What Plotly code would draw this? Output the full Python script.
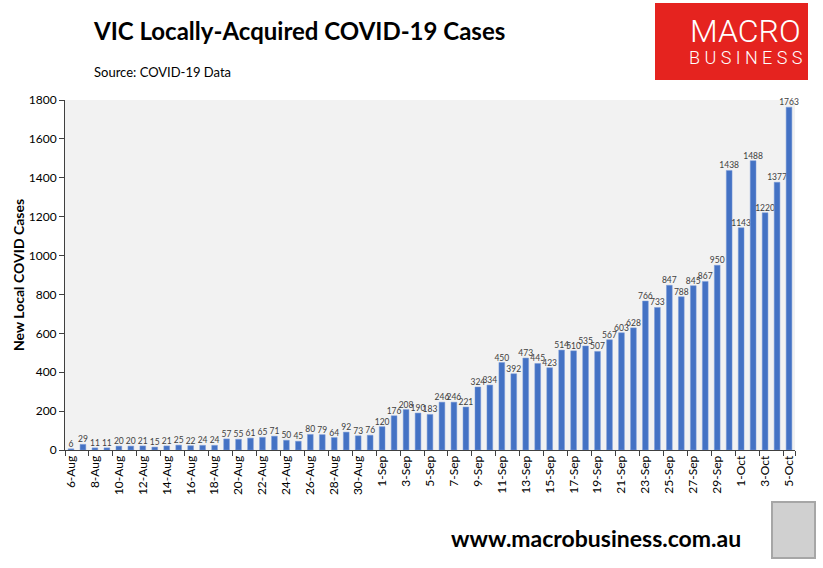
import plotly.graph_objects as go
import pandas as pd

dates = [d.strftime("%-d-%b") for d in pd.date_range("2020-08-06", "2020-10-05")]
cases = [6, 29, 11, 11, 20, 20, 21, 15, 21, 25, 22, 24, 24,
         57, 55, 61, 65, 71, 50, 45, 80, 79, 64, 92, 73, 76,
         120, 176, 208, 190, 183, 246, 246, 221, 324, 334,
         450, 392, 473, 445, 423, 514, 510, 535, 507, 567,
         603, 628, 766, 733, 847, 788, 845, 867, 950, 1438,
         1143, 1488, 1220, 1377, 1763]
y_ticks = [0, 200, 400, 600, 800, 1000, 1200, 1400, 1600, 1800]

FONT = "Lato"
L, R, T, B = 65, 795, 100, 450
PW, PH = R - L, B - T


def px(x):
    return (x - L) / PW


def py(y):
    return (B - y) / PH


fig = go.Figure(go.Bar(
    x=dates, y=cases,
    marker=dict(color="#4472C4", line=dict(color="#7A9AD8", width=0.5)),
    width=0.48,
    text=[str(v) for v in cases], textposition="outside",
    textfont=dict(size=8.5, color="#404040", family=FONT),
    cliponaxis=False,
))

fig.update_layout(
    width=823, height=568,
    margin=dict(l=L, r=823 - R, t=T, b=568 - B, autoexpand=False),
    paper_bgcolor="white", plot_bgcolor="#F2F2F2",
    showlegend=False,
    font=dict(family=FONT, color="#000000"),
    uniformtext=dict(minsize=8, mode="show"),
)
fig.update_xaxes(
    type="category", tickmode="array",
    tickvals=dates[::2], ticktext=dates[::2],
    tickangle=-90, tickfont=dict(size=12, color="#000000", family=FONT),
    ticks="outside", ticklen=5, tickcolor="#404040", tickson="boundaries",
    showline=True, linecolor="#404040", linewidth=1, showgrid=False,
    automargin=False,
)
fig.update_yaxes(
    range=[0, 1800], tickvals=y_ticks,
    tickfont=dict(size=12, color="#000000", family=FONT),
    ticks="outside", ticklen=5, tickcolor="#404040",
    showline=True, linecolor="#404040", linewidth=1, showgrid=False, zeroline=False,
    automargin=False,
)

# Y-axis title
fig.add_annotation(xref="paper", yref="paper", xanchor="center", yanchor="middle",
                   x=px(18), y=py(275), showarrow=False, textangle=-90,
                   text="<b>New Local COVID Cases</b>",
                   font=dict(size=14, family=FONT, color="#000000"))

# Title and source
fig.add_annotation(xref="paper", yref="paper", xanchor="left", yanchor="middle",
                   x=px(91), y=py(30), showarrow=False,
                   text="<b>VIC Locally-Acquired COVID-19 Cases</b>",
                   font=dict(size=24, family=FONT, color="#000000"))
fig.add_annotation(xref="paper", yref="paper", xanchor="left", yanchor="middle",
                   x=px(92), y=py(72), showarrow=False,
                   text="Source: COVID-19 Data",
                   font=dict(size=13, family=FONT, color="#000000"))

# Logo box
fig.add_shape(type="rect", xref="paper", yref="paper",
              x0=px(655), x1=px(808), y0=py(80), y1=py(3),
              fillcolor="#E5231F", line=dict(width=0), layer="above")
fig.add_annotation(xref="paper", yref="paper", xanchor="center", yanchor="middle",
                   x=px(745), y=py(31), showarrow=False, text="MACRO",
                   font=dict(size=32, family="Roboto", color="white", weight=300))
fig.add_annotation(xref="paper", yref="paper", xanchor="center", yanchor="middle",
                   x=px(745), y=py(57), showarrow=False, text="B U S I N E S S",
                   font=dict(size=18, family="Roboto", color="white", weight=300))

# Footer
fig.add_annotation(xref="paper", yref="paper", xanchor="center", yanchor="middle",
                   x=px(596), y=py(538), showarrow=False,
                   text="<b>www.macrobusiness.com.au</b>",
                   font=dict(size=23, family=FONT, color="#000000"))
fig.add_shape(type="rect", xref="paper", yref="paper",
              x0=px(772), x1=px(815), y0=py(558), y1=py(502),
              fillcolor="#D0D0D0", line=dict(color="#A6A6A6", width=2))

fig.write_html("out.html", config={"displayModeBar": False},
               post_script="document.body.style.margin='0';")
